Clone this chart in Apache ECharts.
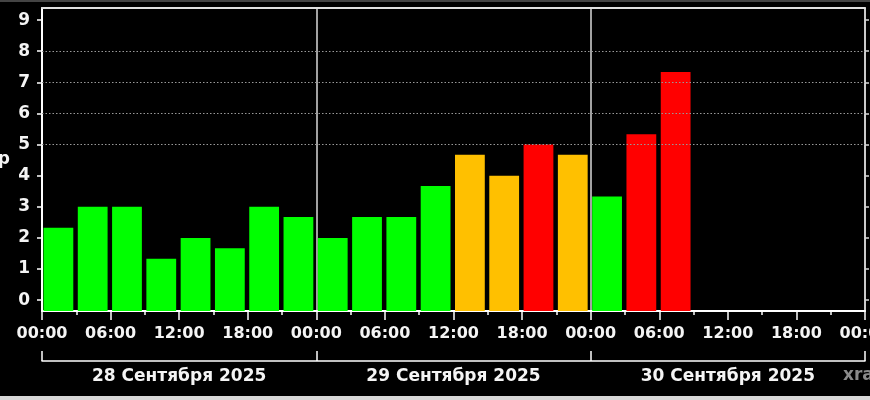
<!DOCTYPE html>
<html>
<head>
<meta charset="utf-8">
<script src="https://cdn.jsdelivr.net/npm/echarts@6/dist/echarts.min.js"></script>
<style>html,body{margin:0;padding:0;background:#000;}#c{width:870px;height:400px;}</style>
</head>
<body>
<div id="c"></div>
<script>
// Start hour of each 3-hour interval (counted from 28 Sep 2025 00:00)
const startHours = [0,3,6,9,12,15,18,21, 24,27,30,33,36,39,42,45, 48,51,54];
// Kp values
const kpValues = [2.33,3,3,1.33,2,1.67,3,2.67, 2,2.67,2.67,3.67,4.67,4,5,4.67, 3.33,5.33,7.33];
const slotHours = 3;
const days = ['28 Сентября 2025','29 Сентября 2025','30 Сентября 2025'];
const yTicks = [0,1,2,3,4,5,6,7,8,9];
const stormLevels = [5,6,7,8];

function kpColor(v){ return v >= 5 ? '#ff0000' : (v >= 4 ? '#ffc000' : '#00ff00'); }

const FONT = 'DejaVu Sans';
const txt = {color:'#f4f4f4', fontFamily:FONT, fontWeight:'bold', fontSize:16};
const txt17 = Object.assign({}, txt, {fontSize:17});

const chart = echarts.init(document.getElementById('c'));
chart.setOption({
  backgroundColor:'#000',
  animation:false,
  grid:{left:42, right:5, top:8, bottom:89, containLabel:false, outerBoundsMode:'none'},
  xAxis:[
    {type:'value', min:0, max:72, interval:6, position:'bottom',
     axisLine:{show:true, onZero:false, lineStyle:{color:'#fff', width:2}},
     axisTick:{show:true, length:9, lineStyle:{color:'#fff', width:1.5}},
     minorTick:{show:true, splitNumber:2, length:4, lineStyle:{color:'#fff', width:1.5}},
     splitLine:{show:false}, minorSplitLine:{show:false},
     axisLabel:Object.assign({margin:15, formatter:v => String(v%24).padStart(2,'0')+':00', showMaxLabel:true, showMinLabel:true, hideOverlap:false}, txt)},
    {type:'category', data:days, position:'bottom', offset:50, boundaryGap:true,
     axisLine:{show:true, onZero:false, lineStyle:{color:'#fff', width:1.5}},
     axisTick:{show:true, inside:true, length:10, lineStyle:{color:'#fff', width:1.5}},
     axisLabel:Object.assign({margin:7}, txt17), splitLine:{show:false}},
    {type:'value', min:0, max:72, interval:24, position:'top',
     axisLine:{show:true, onZero:false, lineStyle:{color:'#e0e0e0', width:2}},
     axisTick:{show:false}, axisLabel:{show:false},
     splitLine:{show:true, lineStyle:{color:'#d8d8d8', width:1.5}}}
  ],
  yAxis:[
    {type:'value', min:-0.35, max:9.39, position:'left',
     name:'Kp', nameLocation:'middle', nameRotate:0, nameGap:32,
     nameTextStyle:Object.assign({}, txt17),
     axisLine:{show:true, onZero:false, lineStyle:{color:'#fff', width:2}},
     axisTick:{show:true, length:5, customValues:yTicks, lineStyle:{color:'#fff', width:1.5}},
     axisLabel:Object.assign({margin:12, customValues:yTicks}, txt17),
     splitLine:{show:false}},
    {type:'value', min:-0.35, max:9.39, position:'right',
     axisLine:{show:true, onZero:false, lineStyle:{color:'#d8d8d8', width:1.5}},
     axisTick:{show:true, length:4, customValues:yTicks, lineStyle:{color:'#d8d8d8', width:1.5}},
     axisLabel:{show:false}, splitLine:{show:false}}
  ],
  series:[
    {type:'custom', xAxisIndex:0, yAxisIndex:0, z:3,
     data:startHours.map((h,i)=>({value:[h,kpValues[i]], itemStyle:{color:kpColor(kpValues[i])}})),
     renderItem:function(params, api){
       const h = api.value(0), v = api.value(1);
       const p0 = api.coord([h, v]);
       const p1 = api.coord([h + slotHours, v]);
       const base = params.coordSys.y + params.coordSys.height;
       return {type:'rect', shape:{x:p0[0]+1.5, y:p0[1], width:p1[0]-p0[0]-4.5, height:base-p0[1]},
               style:{fill:api.visual('color')}};
     }},
    {type:'line', xAxisIndex:0, yAxisIndex:0, data:[], z:2,
     markLine:{silent:true, symbol:['none','none'], label:{show:false},
       lineStyle:{color:'#999999', type:[1.5,2], width:1},
       data:stormLevels.map(v=>({yAxis:v}))}}
  ],
  graphic:[
    {type:'text', left:843, top:367, style:{text:'xras.ru', fill:'#8a8a8a', font:'bold 17px "DejaVu Sans"'}},
    {type:'rect', left:0, top:396, shape:{width:870, height:4}, style:{fill:'#d8d8d8'}},
    {type:'rect', left:0, top:0, shape:{width:870, height:2}, style:{fill:'#444'}}
  ]
});
</script>
</body>
</html>
